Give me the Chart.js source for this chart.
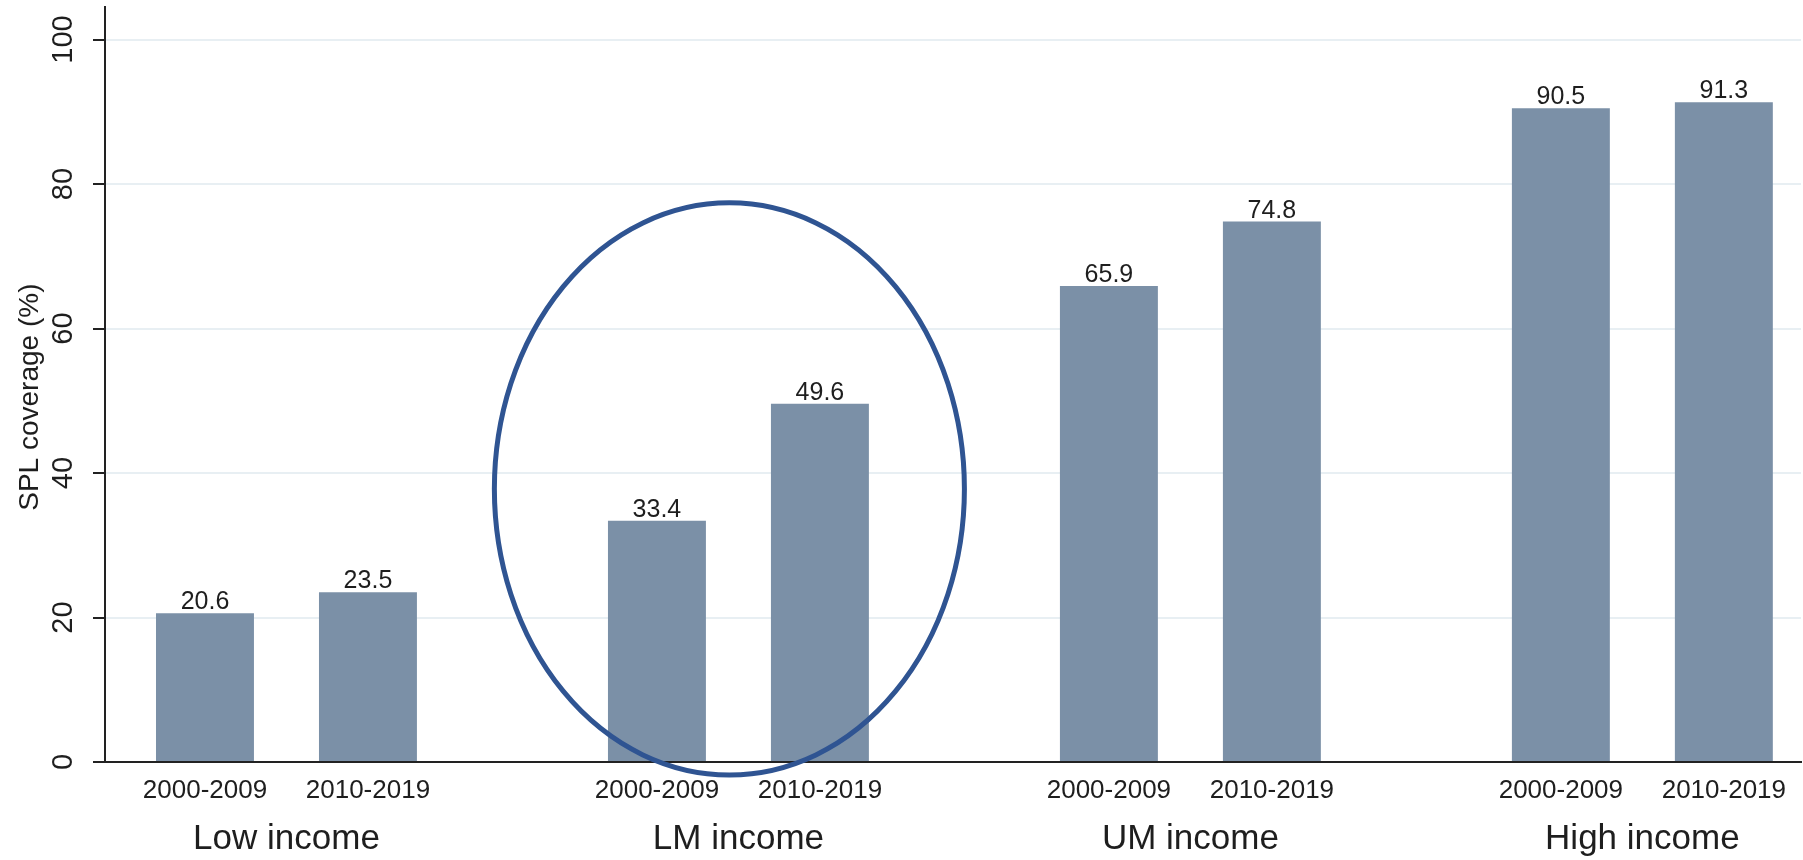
<!DOCTYPE html>
<html>
<head>
<meta charset="utf-8">
<script src="https://cdn.jsdelivr.net/npm/chart.js@4"></script>
<style>
  html, body { margin: 0; padding: 0; background: #fff; }
</style>
</head>
<body>
<canvas id="chart" width="1803" height="860"></canvas>
<script>
const groups = ['Low income', 'LM income', 'UM income', 'High income'];
const periods = ['2000-2009', '2010-2019'];
const coverage2000s = [20.6, 33.4, 65.9, 90.5];
const coverage2010s = [23.5, 49.6, 74.8, 91.3];
const yTicks = [0, 20, 40, 60, 80, 100];
const yTitle = 'SPL coverage (%)';

// highlighted group (the hand-drawn ellipse), in data units
const highlight = { group: 0.98, value: 37.8, halfWidth: 0.52, halfHeight: 39.6 };

const FONT = "'Liberation Sans', Arial, sans-serif";
const INK = '#1e1e1e';

const textPlugin = {
  id: 'textPlugin',
  afterDraw(chart) {
    const ctx = chart.ctx;
    const xs = chart.scales.x;
    const ys = chart.scales.y;
    const area = chart.chartArea;
    ctx.save();
    ctx.fillStyle = INK;

    // values above bars + period labels under bars
    chart.data.datasets.forEach((ds, di) => {
      const meta = chart.getDatasetMeta(di);
      meta.data.forEach((bar, j) => {
        ctx.font = '25px ' + FONT;
        ctx.textAlign = 'center';
        ctx.textBaseline = 'alphabetic';
        ctx.fillText(ds.data[j].y.toFixed(1), bar.x, bar.y - 4);
        ctx.font = '26px ' + FONT;
        ctx.textBaseline = 'middle';
        ctx.fillText(periods[di], bar.x, area.bottom + 29);
      });
    });

    // group labels
    ctx.font = '35px ' + FONT;
    ctx.textAlign = 'center';
    ctx.textBaseline = 'middle';
    groups.forEach((g, i) => {
      ctx.fillText(g, xs.getPixelForValue(i), area.bottom + 77);
    });

    // rotated y tick labels
    ctx.font = '29px ' + FONT;
    yTicks.forEach(v => {
      ctx.save();
      ctx.translate(area.left - 41, ys.getPixelForValue(v));
      ctx.rotate(-Math.PI / 2);
      ctx.fillText(String(v), 0, 0);
      ctx.restore();
    });

    // y axis title
    ctx.save();
    ctx.font = '28px ' + FONT;
    ctx.translate(area.left - 75, ys.getPixelForValue(50.5));
    ctx.rotate(-Math.PI / 2);
    ctx.fillText(yTitle, 0, 0);
    ctx.restore();

    // ellipse around LM income
    const cx = xs.getPixelForValue(highlight.group);
    const cy = ys.getPixelForValue(highlight.value);
    const rx = xs.getPixelForValue(highlight.group + highlight.halfWidth) - cx;
    const ry = cy - ys.getPixelForValue(highlight.value + highlight.halfHeight);
    ctx.beginPath();
    ctx.ellipse(cx, cy, rx, ry, 0, 0, Math.PI * 2);
    ctx.strokeStyle = '#2f5492';
    ctx.lineWidth = 5;
    ctx.stroke();

    ctx.restore();
  }
};

new Chart(document.getElementById('chart'), {
  type: 'bar',
  data: {
    datasets: [
      {
        label: periods[0],
        data: coverage2000s.map((v, i) => ({ x: i, y: v })),
        backgroundColor: '#7b90a7',
        borderWidth: 0,
        categoryPercentage: 0.7212,
        barPercentage: 0.601,
      },
      {
        label: periods[1],
        data: coverage2010s.map((v, i) => ({ x: i, y: v })),
        backgroundColor: '#7b90a7',
        borderWidth: 0,
        categoryPercentage: 0.7212,
        barPercentage: 0.601,
      },
    ],
  },
  options: {
    responsive: false,
    animation: false,
    devicePixelRatio: 1,
    layout: { padding: { top: 7, right: 2, left: 0, bottom: 0 } },
    plugins: {
      legend: { display: false },
      tooltip: { enabled: false },
    },
    scales: {
      x: {
        type: 'linear',
        offset: false,
        min: -0.4015,
        max: 3.351,
        afterBuildTicks: (scale) => { scale.ticks = groups.map((g, i) => ({ value: i })); },
        afterFit: (scale) => { scale.height = 98; },
        grid: { display: false, offset: false },
        ticks: { display: false },
        border: { display: true, color: '#222', width: 2 },
      },
      y: {
        min: 0,
        max: 104.5,
        afterBuildTicks: (scale) => { scale.ticks = yTicks.map(v => ({ value: v })); },
        afterFit: (scale) => { scale.width = 105; },
        grid: {
          color: '#e8eff3',
          lineWidth: 2,
          tickColor: '#222',
          tickLength: 12,
          tickWidth: 2,
        },
        ticks: { display: false },
        border: { display: true, color: '#222', width: 2 },
      },
    },
  },
  plugins: [textPlugin],
});
</script>
</body>
</html>
